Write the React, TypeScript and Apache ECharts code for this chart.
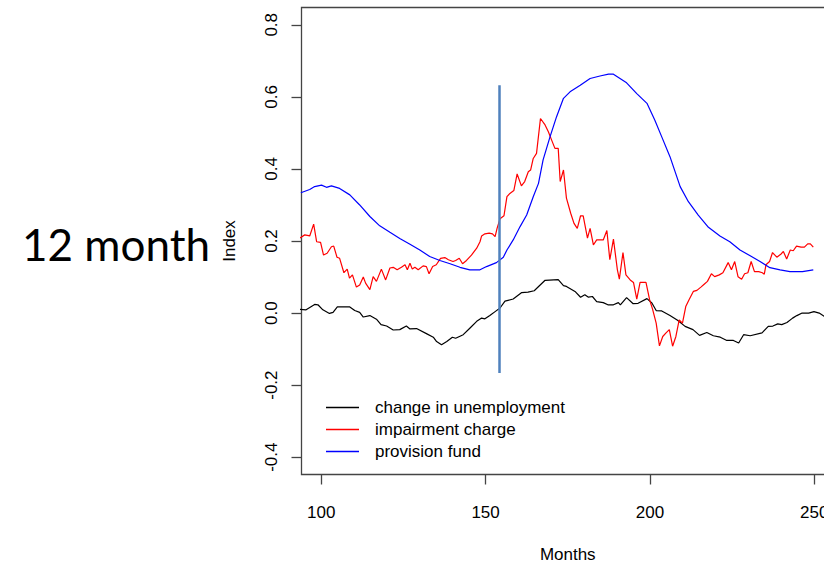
import React, { useEffect, useRef } from "react";
import * as echarts from "echarts";

// Axis extents and tick positions
const xMin = 94;
const xMax = 256;
const yMin = -0.448;
const yMax = 0.848;
const xTicks = [100, 150, 200, 250];
const yTicks = [-0.4, -0.2, 0.0, 0.2, 0.4, 0.6, 0.8];

// Vertical marker
const markerMonth = 154.3;
const markerTop = 0.632;
const markerBottom = -0.166;

// change in unemployment
const unempMonths = [
  93.5, 95.4, 98.0, 99.0, 100.5, 102.5, 103.6, 104.9, 108.7, 110.2, 111.7, 112.8, 114.8, 116.8,
  118.2, 119.9, 121.9, 123.9, 125.9, 127.0, 129.0, 132.0, 134.1, 135.1, 136.6, 138.2, 139.9,
  140.9, 143.2, 145.2, 147.3, 148.8, 149.8, 151.3, 152.9, 154.4, 155.9, 158.4, 161.0, 162.9,
  164.8, 168.1, 172.1, 173.7, 174.6, 177.2, 178.9, 180.2, 181.3, 182.5, 183.8, 185.8, 187.2,
  188.9, 190.4, 191.0, 192.9, 194.9, 196.4, 199.1, 200.6, 201.9, 203.6, 206.1, 208.4, 210.7,
  213.1, 215.1, 217.3, 219.3, 221.4, 223.4, 225.4, 227.0, 228.5, 230.5, 234.1, 236.0, 237.4,
  238.9, 240.1, 241.7, 243.4, 244.7, 246.3, 248.3, 249.9, 251.5, 253.0, 254.0,
];
const unempValues = [
  0.010, 0.009, 0.024, 0.023, 0.009, -0.001, 0.002, 0.017, 0.017, 0.007, 0.002, -0.011, -0.007,
  -0.017, -0.032, -0.036, -0.047, -0.046, -0.036, -0.044, -0.043, -0.057, -0.067, -0.079,
  -0.088, -0.079, -0.067, -0.070, -0.060, -0.042, -0.023, -0.014, -0.016, -0.007, 0.004, 0.014,
  0.033, 0.039, 0.057, 0.058, 0.062, 0.091, 0.093, 0.076, 0.074, 0.060, 0.044, 0.051, 0.044,
  0.046, 0.032, 0.029, 0.023, 0.023, 0.029, 0.023, 0.043, 0.026, 0.027, 0.040, 0.028, 0.007,
  0.006, -0.007, -0.020, -0.037, -0.046, -0.062, -0.054, -0.063, -0.067, -0.076, -0.076,
  -0.083, -0.060, -0.063, -0.055, -0.037, -0.036, -0.030, -0.032, -0.026, -0.014, -0.007,
  0.000, 0.000, 0.004, 0.000, -0.009, -0.014,
];

// impairment charge
const impairMonths = [
  93.5, 95.0, 96.5, 97.7, 98.6, 99.8, 100.7, 101.8, 103.1, 103.8, 104.8, 105.6, 106.9, 107.9,
  108.6, 109.5, 110.7, 111.7, 112.8, 113.5, 114.8, 115.8, 116.8, 118.3, 119.6, 120.9, 121.9,
  123.1, 124.4, 125.5, 126.2, 127.0, 127.7, 128.5, 129.5, 131.0, 132.0, 132.8, 133.9, 135.0,
  136.3, 137.6, 138.7, 140.1, 140.9, 142.0, 143.0, 144.2, 145.7, 147.3, 148.3, 148.8, 149.8,
  151.1, 152.1, 152.9, 153.5, 154.4, 155.6, 156.5, 157.4, 158.6, 159.6, 160.9, 161.9, 163.0,
  163.7, 164.5, 165.5, 166.7, 168.1, 169.1, 170.1, 171.1, 172.1, 172.7, 173.7, 174.6, 175.9,
  176.9, 177.9, 178.9, 179.7, 181.0, 181.8, 182.8, 183.8, 185.8, 186.9, 187.8, 188.9, 190.1,
  190.7, 191.8, 192.7, 194.0, 195.0, 196.0, 197.0, 198.8, 199.9, 200.8, 201.9, 202.9, 203.9,
  204.9, 205.9, 206.9, 207.9, 208.9, 209.9, 210.9, 211.9, 213.2, 214.3, 215.5, 216.5, 217.5,
  218.7, 219.7, 221.1, 222.2, 223.8, 224.8, 225.8, 226.8, 227.9, 228.8, 229.8, 230.8, 231.8,
  233.1, 234.2, 234.8, 235.3, 236.4, 237.3, 238.6, 239.9, 240.6, 241.6, 242.7, 243.6, 244.6,
  246.0, 247.0, 248.0, 248.8, 249.7,
];
const impairValues = [
  0.208, 0.217, 0.214, 0.247, 0.198, 0.196, 0.161, 0.166, 0.184, 0.186, 0.155, 0.152, 0.112,
  0.122, 0.097, 0.106, 0.072, 0.078, 0.100, 0.083, 0.065, 0.101, 0.088, 0.122, 0.092, 0.125,
  0.127, 0.120, 0.127, 0.134, 0.120, 0.138, 0.122, 0.127, 0.120, 0.131, 0.129, 0.109, 0.129,
  0.134, 0.152, 0.154, 0.148, 0.143, 0.146, 0.152, 0.137, 0.146, 0.161, 0.180, 0.198, 0.214,
  0.220, 0.222, 0.220, 0.212, 0.235, 0.262, 0.270, 0.323, 0.332, 0.340, 0.386, 0.353, 0.365,
  0.392, 0.397, 0.429, 0.443, 0.540, 0.522, 0.503, 0.480, 0.457, 0.457, 0.365, 0.397, 0.319,
  0.277, 0.249, 0.235, 0.270, 0.270, 0.208, 0.235, 0.189, 0.203, 0.203, 0.229, 0.148, 0.205,
  0.120, 0.094, 0.168, 0.106, 0.092, 0.085, 0.039, 0.085, 0.085, 0.037, 0.011, -0.028, -0.091,
  -0.065, -0.055, -0.046, -0.092, -0.065, -0.019, -0.028, 0.018, 0.037, 0.060, 0.063, 0.072,
  0.080, 0.088, 0.109, 0.101, 0.106, 0.112, 0.140, 0.120, 0.143, 0.101, 0.094, 0.109, 0.112,
  0.143, 0.115, 0.115, 0.112, 0.108, 0.134, 0.143, 0.168, 0.155, 0.164, 0.171, 0.150, 0.175,
  0.173, 0.186, 0.183, 0.183, 0.192, 0.192, 0.183,
];

// provision fund
const provisionMonths = [
  93.8, 96.5, 98.0, 100.1, 101.6, 103.1, 105.6, 108.7, 111.7, 114.8, 117.8, 120.9, 123.9, 127.0,
  130.0, 133.0, 136.1, 139.2, 142.2, 145.2, 148.3, 150.3, 153.3, 155.4, 156.5, 158.4, 160.5,
  162.5, 164.5, 166.1, 167.5, 169.6, 171.6, 173.7, 175.7, 178.8, 181.8, 184.8, 187.4, 188.9,
  190.9, 192.9, 196.0, 199.1, 201.5, 203.6, 206.1, 209.2, 211.7, 214.7, 217.8, 221.3, 224.3,
  227.4, 230.5, 233.5, 236.5, 239.6, 242.6, 246.4, 249.7,
];
const provisionValues = [
  0.334, 0.343, 0.351, 0.355, 0.349, 0.353, 0.346, 0.328, 0.300, 0.268, 0.242, 0.224, 0.207,
  0.191, 0.175, 0.157, 0.146, 0.137, 0.127, 0.120, 0.120, 0.129, 0.140, 0.155, 0.175, 0.203,
  0.240, 0.272, 0.323, 0.360, 0.425, 0.489, 0.545, 0.596, 0.614, 0.632, 0.651, 0.658, 0.663,
  0.663, 0.651, 0.639, 0.609, 0.582, 0.535, 0.489, 0.434, 0.351, 0.309, 0.272, 0.238, 0.214,
  0.198, 0.175, 0.159, 0.143, 0.126, 0.120, 0.115, 0.115, 0.120,
];

const seriesNames = ["change in unemployment", "impairment charge", "provision fund"];
const seriesColors = ["#000000", "#ff0000", "#0000ff"];

const zip = (xs: number[], ys: number[]) => xs.map((x, i) => [x, ys[i]]);

const FONT = "'Liberation Sans', Arial, Helvetica, sans-serif";
const FRAME = "#444444";

export default function App() {
  const ref = useRef<HTMLDivElement>(null);

  useEffect(() => {
    if (!ref.current) return;
    const chart = echarts.init(ref.current, undefined, { renderer: "svg" });

    const lineSeries = [
      zip(unempMonths, unempValues),
      zip(impairMonths, impairValues),
      zip(provisionMonths, provisionValues),
    ].map((data, i) => ({
      name: seriesNames[i],
      type: "line",
      data,
      symbol: "none",
      showSymbol: false,
      clip: true,
      color: seriesColors[i],
      lineStyle: { color: seriesColors[i], width: 1.2 },
      z: 2 + i,
      ...(i === 0
        ? {
            markLine: {
              silent: true,
              symbol: ["none", "none"],
              label: { show: false },
              lineStyle: { color: "#4f81bd", width: 2.5, type: "solid" },
              data: [[{ coord: [markerMonth, markerTop] }, { coord: [markerMonth, markerBottom] }]],
              z: 10,
            },
          }
        : {}),
    }));

    chart.setOption({
      animation: false,
      backgroundColor: "#ffffff",
      textStyle: { fontFamily: FONT },
      grid: {
        left: 301.5,
        top: 7.5,
        width: 532.5,
        height: 467,
        outerBoundsMode: "none",
        containLabel: false,
        show: true,
        borderColor: FRAME,
        borderWidth: 1.3,
        backgroundColor: "transparent",
      },
      legend: {
        orient: "vertical",
        left: 321,
        top: 394,
        itemWidth: 33,
        itemHeight: 1.3,
        itemGap: 5,
        icon: "rect",
        itemStyle: { borderWidth: 0 },
        textStyle: { fontSize: 17, fontFamily: FONT, color: "#000", padding: [0, 0, 0, 11] },
        data: seriesNames,
        selectedMode: false,
      },
      xAxis: {
        type: "value",
        min: xMin,
        max: xMax,
        name: "Months",
        nameLocation: "middle",
        nameGap: 72,
        nameTextStyle: { fontSize: 17, lineHeight: 15, fontFamily: FONT, color: "#000" },
        axisLine: { show: false, onZero: false },
        splitLine: { show: false },
        axisTick: {
          show: true,
          inside: false,
          length: 10,
          customValues: xTicks,
          lineStyle: { color: FRAME, width: 1.3 },
        },
        axisLabel: {
          customValues: xTicks,
          fontSize: 17,
          fontFamily: FONT,
          color: "#000",
          margin: 29,
        },
      },
      yAxis: {
        type: "value",
        min: yMin,
        max: yMax,
        name: "Index",
        nameLocation: "middle",
        nameRotate: 90,
        nameGap: 64,
        nameTextStyle: { fontSize: 17, fontFamily: FONT, color: "#000" },
        axisLine: { show: false, onZero: false },
        splitLine: { show: false },
        axisTick: {
          show: true,
          inside: false,
          length: 10,
          customValues: yTicks,
          lineStyle: { color: FRAME, width: 1.3 },
        },
        axisLabel: {
          customValues: yTicks,
          rotate: 90,
          fontSize: 17,
          fontFamily: FONT,
          color: "#000",
          margin: 22,
          formatter: (v: number) => v.toFixed(1),
        },
      },
      graphic: [
        {
          type: "text",
          x: 22,
          y: 244,
          style: {
            text: "12 month",
            fontSize: 44,
            fontFamily: "Lato, 'Open Sans', sans-serif",
            fill: "#000",
            align: "left",
            verticalAlign: "middle",
          },
        },
      ],
      series: lineSeries,
    });

    return () => chart.dispose();
  }, []);

  return (
    <div
      style={{
        position: "fixed",
        left: 0,
        top: 0,
        width: 824,
        height: 563,
        overflow: "hidden",
        background: "#fff",
      }}
    >
      <div ref={ref} style={{ width: 880, height: 563 }} />
    </div>
  );
}
